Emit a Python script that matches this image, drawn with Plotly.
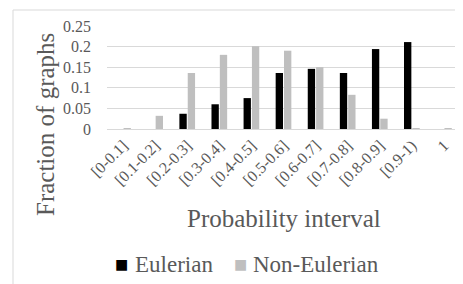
import plotly.graph_objects as go

categories = ["[0-0.1]", "[0.1-0.2]", "[0.2-0.3]", "[0.3-0.4]", "[0.4-0.5]", "[0.5-0.6]",
              "[0.6-0.7]", "[0.7-0.8]", "[0.8-0.9]", "[0.9-1)", "1"]
eulerian = [0, 0, 0.037, 0.060, 0.075, 0.136, 0.146, 0.136, 0.194, 0.211, 0]
non_eulerian = [0.002, 0.032, 0.136, 0.180, 0.201, 0.190, 0.150, 0.083, 0.025, 0.002, 0.002]
y_ticks = [0, 0.05, 0.1, 0.15, 0.2, 0.25]
y_tick_labels = ["0", "0.05", "0.1", "0.15", "0.2", "0.25"]
series_names = ["Eulerian", "Non-Eulerian"]
series_colors = ["#000000", "#bfbfbf"]

FONT = "Liberation Serif"
TXT = "#595959"
OFF = 8  # page body margin

L, T = 107 - OFF, 26 - OFF
PW, PH = 353, 103


def px(xp):
    return (xp - OFF - L) / PW


def py(yp):
    return (T + PH - (yp - OFF)) / PH


fig = go.Figure()
for name, vals, col in zip(series_names, [eulerian, non_eulerian], series_colors):
    fig.add_trace(go.Bar(name=name, x=categories, y=vals, marker_color=col,
                         marker_line_width=0))

legend_ann = []
for name, col, sq_x, txt_x in zip(series_names, series_colors, [121, 240], [133, 251]):
    legend_ann.append(dict(text="■", xref="paper", yref="paper", x=px(sq_x), y=py(264),
                           xanchor="center", yanchor="middle", showarrow=False,
                           font=dict(family="DejaVu Sans", size=14, color=col)))
    legend_ann.append(dict(text=name, xref="paper", yref="paper", x=px(txt_x), y=py(264),
                           xanchor="left", yanchor="middle", showarrow=False,
                           font=dict(family=FONT, size=23, color=TXT)))

fig.update_layout(
    template="none",
    width=463, height=284,
    margin=dict(l=L, r=463 - L - PW, t=T, b=284 - T - PH, pad=0, autoexpand=False),
    paper_bgcolor="white", plot_bgcolor="white",
    barmode="group", bargap=0.48, bargroupgap=0.12,
    font=dict(family=FONT, color=TXT),
    showlegend=False,
    xaxis=dict(tickangle=-45, tickfont=dict(family=FONT, size=16, color=TXT),
               showline=True, linecolor="#d9d9d9", linewidth=1, ticks="",
               showgrid=False, automargin=False),
    yaxis=dict(range=[0, 0.25], tickvals=y_ticks, ticktext=y_tick_labels,
               tickfont=dict(family=FONT, size=16, color=TXT),
               showgrid=True, gridcolor="#d9d9d9", gridwidth=1, zeroline=False,
               ticks="", ticklabelstandoff=15, showline=False, automargin=False),
    annotations=[
        dict(text="Probability interval", xref="paper", yref="paper",
             x=px(283.5), y=py(218), xanchor="center", yanchor="middle",
             showarrow=False, font=dict(family=FONT, size=25, color=TXT)),
        dict(text="Fraction of graphs", xref="paper", yref="paper",
             x=px(45), y=py(125), xanchor="center", yanchor="middle",
             textangle=-90, showarrow=False, font=dict(family=FONT, size=25, color=TXT)),
    ] + legend_ann,
    shapes=[dict(type="rect", xref="paper", yref="paper",
                 x0=px(13), x1=px(600), y0=py(600), y1=py(10),
                 line=dict(color="#d9d9d9", width=1), layer="below")],
)

fig.write_html("out.html")
